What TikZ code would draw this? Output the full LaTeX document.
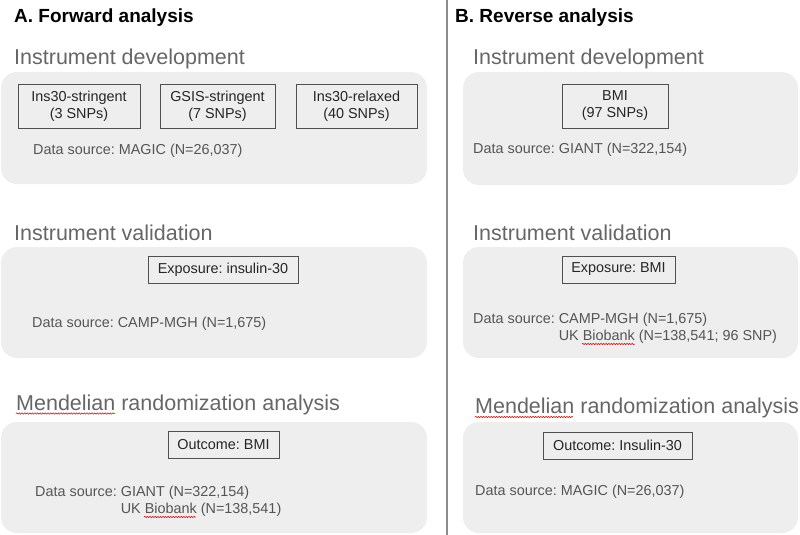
\documentclass[tikz,border=0pt]{standalone}
\usepackage{fontspec}
\setmainfont{Liberation Sans}
\usetikzlibrary{decorations.pathmorphing}
\definecolor{panelgray}{HTML}{EFEEEF}
\definecolor{headgray}{HTML}{666666}
\definecolor{notegray}{HTML}{555555}
\definecolor{edgegray}{HTML}{505050}
\tikzset{
  panel/.style={fill=panelgray, rounded corners=16pt},
  item/.style={draw=edgegray, line width=0.9pt, align=center, inner sep=0pt,
    text=black!85, font=\fontsize{14.4}{17}\selectfont},
  heading/.style={anchor=base west, inner sep=0pt, text=headgray,
    font=\fontsize{21.5}{24}\selectfont},
  title/.style={anchor=base west, inner sep=0pt, font=\fontsize{19}{21}\selectfont\bfseries},
  note/.style={anchor=base west, align=left, inner sep=0pt, text=notegray,
    font=\fontsize{14.4}{17}\selectfont},
  typo/.style={draw=red!85!black, line width=0.5pt, decorate,
    decoration={snake, amplitude=0.7pt, segment length=2.6pt}}
}
\newcommand{\dsgap}{\phantom{Data source: }}
\frenchspacing
\begin{document}
\begin{tikzpicture}[x=1pt, y=-1pt]
  \useasboundingbox (0,0) rectangle (800,535);
  % divider
  \draw[line width=2pt, black!45] (447,0) -- (447,535);
  % forward analysis
  \node[title] (fwd) at (14,23) {A. Forward analysis};
  \node[heading] (devA) at (14,64) {Instrument development};
  \fill[panel] (1,72) rectangle (427,184);
  \node[item, minimum width=122, minimum height=44] (ins) at (79,106) {Ins30-stringent\\(3 SNPs)};
  \node[item, minimum width=115, minimum height=44] (gsis) at (217.5,106) {GSIS-stringent\\(7 SNPs)};
  \node[item, minimum width=121, minimum height=44] (relax) at (356.5,106) {Ins30-relaxed\\(40 SNPs)};
  \node[note] (srcA) at (33,154) {Data source: MAGIC (N=26,037)};
  \node[heading] (valA) at (14,240) {Instrument validation};
  \fill[panel] (1,247) rectangle (427,358);
  \node[item, minimum width=150, minimum height=27] (expA) at (223,269.5) {Exposure: insulin-30};
  \node[note] (camA) at (32,327) {Data source: CAMP-MGH (N=1,675)};
  \node[heading] (mrA) at (16,410) {Mendelian randomization analysis};
  \fill[panel] (1,422) rectangle (427,533);
  \node[item, minimum width=111, minimum height=27] (outA) at (223.5,444.5) {Outcome: BMI};
  \node[note] (giantA) at (35,513) {Data source: GIANT (N=322,154)\\\dsgap UK Biobank (N=138,541)};
  \draw[typo] (16,413.5) -- (115,413.5);
  \draw[typo] (144,517) -- (196,517);
  % reverse analysis
  \node[title] (rev) at (455,23) {B. Reverse analysis};
  \node[heading] (devB) at (473,65) {Instrument development};
  \fill[panel] (463,72) rectangle (798,185);
  \node[item, minimum width=106, minimum height=44] (bmi) at (615,106) {BMI\\(97 SNPs)};
  \node[note] (srcB) at (473,153) {Data source: GIANT (N=322,154)};
  \node[heading] (valB) at (473,240) {Instrument validation};
  \fill[panel] (463,247) rectangle (798,358);
  \node[item, minimum width=113, minimum height=27] (expB) at (618.5,269.5) {Exposure: BMI};
  \node[note] (camB) at (473,340) {Data source: CAMP-MGH (N=1,675)\\\dsgap UK Biobank (N=138,541; 96 SNP)};
  \draw[typo] (582,344) -- (635,344);
  \node[heading] (mrB) at (475,413) {Mendelian randomization analysis};
  \fill[panel] (463,422) rectangle (798,533);
  \node[item, minimum width=149, minimum height=27] (outB) at (617.5,445.5) {Outcome: Insulin-30};
  \node[note] (magB) at (475,495) {Data source: MAGIC (N=26,037)};
  \draw[typo] (475,417) -- (573,417);
\end{tikzpicture}
\end{document}
